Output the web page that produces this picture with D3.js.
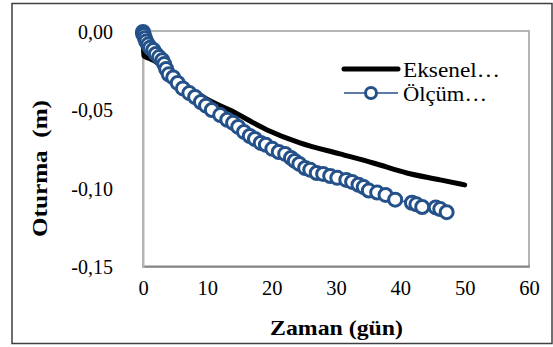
<!DOCTYPE html>
<html>
<head>
<meta charset="utf-8">
<script src="https://cdn.jsdelivr.net/npm/d3@7"></script>
<style>
  body { margin: 0; background: #fff; }
  text { font-family: "Liberation Serif", "Times New Roman", serif; }
</style>
</head>
<body>
<div id="chart"></div>
<script>
// Eksenel (model curve)
var eksenelT = [0, 0.1, 1, 2, 3, 5, 7, 10, 13.5, 19.3, 24.4, 30.6, 35.8, 41, 46.2, 50]
var eksenelS = [0, -0.015, -0.017, -0.019, -0.022, -0.029, -0.035, -0.043, -0.0498, -0.0625, -0.0708, -0.0778, -0.0836, -0.090, -0.0944, -0.0976]

// Ölçüm (measured)
var olcumT = [0, 0, 0.15, 0.3, 0.5, 0.8, 1.1, 1.6, 2.0, 2.5, 3.0, 3.3, 3.6, 4.0, 4.7, 5.4, 6.2, 7.2, 8.1, 9.0, 9.8, 10.7, 12.0, 13.1, 14.0, 14.8, 15.7, 16.6, 17.4, 18.3, 19.1, 20.1, 21.1, 22.1, 23.0, 23.6, 24.3, 25.2, 26.0, 27.0, 28.0, 29.1, 30.2, 31.6, 32.5, 33.5, 34.3, 35.1, 36.4, 37.7, 39.2, 41.8, 42.5, 43.4, 45.5, 46.2, 47.2]
var olcumS = [0, -0.001, -0.002, -0.004, -0.006, -0.008, -0.010, -0.0115, -0.014, -0.016, -0.018, -0.0205, -0.0236, -0.027, -0.029, -0.0325, -0.036, -0.039, -0.0415, -0.0447, -0.047, -0.0498, -0.053, -0.056, -0.058, -0.0606, -0.0638, -0.0664, -0.0683, -0.0708, -0.072, -0.0746, -0.0766, -0.0778, -0.0804, -0.0823, -0.0842, -0.0868, -0.088, -0.090, -0.0906, -0.0919, -0.0931, -0.0944, -0.0957, -0.0975, -0.099, -0.1012, -0.1025, -0.104, -0.107, -0.109, -0.110, -0.1117, -0.112, -0.113, -0.115]

var xTicks = [0, 10, 20, 30, 40, 50, 60]
var yTicks = [0, -0.05, -0.10, -0.15]
var seriesNames = ['Eksenel…', 'Ölçüm…']

var W = 553, H = 347
var plotL = 143, plotR = 529, plotT = 32, plotB = 267
var blue = '#245189'

var svg = d3.select('#chart').append('svg')
  .attr('width', W).attr('height', H)

// outer chart border
svg.append('rect')
  .attr('x', 12).attr('y', 3.5)
  .attr('width', 540).attr('height', 340)
  .attr('fill', 'none').attr('stroke', '#404040').attr('stroke-width', 1.5)

var x = d3.scaleLinear().domain([0, 60]).range([plotL, plotR])
var y = d3.scaleLinear().domain([-0.15, 0]).range([plotB, plotT])

// plot area frame
svg.append('rect')
  .attr('x', plotL).attr('y', plotT - 1)
  .attr('width', plotR - plotL).attr('height', plotB - plotT + 1)
  .attr('fill', 'none').attr('stroke', '#b4b4b4').attr('stroke-width', 2)

var fmt = function(d){ return d3.format('.2f')(d).replace('.', ',').replace('−', '-') }

var xAxis = svg.append('g')
  .attr('transform', 'translate(0,' + (plotB - 1) + ')')
  .call(d3.axisBottom(x).tickValues(xTicks).tickSize(0).tickPadding(14).tickFormat(d3.format('d')))
xAxis.select('.domain').attr('stroke', '#868686').attr('stroke-width', 2)
xAxis.selectAll('text').attr('font-size', 20.5).attr('fill', '#000')

var yAxis = svg.append('g')
  .attr('transform', 'translate(' + plotL + ',0)')
  .call(d3.axisLeft(y).tickValues(yTicks).tickSize(0).tickPadding(30).tickFormat(fmt))
yAxis.select('.domain').attr('stroke', '#b4b4b4').attr('stroke-width', 2)
yAxis.selectAll('text').attr('font-size', 20).attr('fill', '#000')

// axis titles
svg.append('text')
  .attr('x', 270).attr('y', 335)
  .attr('font-size', 21).attr('font-weight', 'bold')
  .attr('textLength', 133).attr('lengthAdjust', 'spacingAndGlyphs')
  .text('Zaman (gün)')

svg.append('text')
  .attr('transform', 'translate(47,237) rotate(-90)')
  .attr('font-size', 21).attr('font-weight', 'bold')
  .attr('xml:space', 'preserve')
  .attr('textLength', 137).attr('lengthAdjust', 'spacingAndGlyphs')
  .text('Oturma  (m)')

// series
var eksenel = eksenelT.map(function(t, i){ return {t: t, s: eksenelS[i]} })
var olcum = olcumT.map(function(t, i){ return {t: t, s: olcumS[i]} })

var line = d3.line()
  .x(function(d){ return x(d.t) })
  .y(function(d){ return y(d.s) })
  .curve(d3.curveMonotoneX)

svg.append('path').datum(eksenel)
  .attr('d', line)
  .attr('fill', 'none').attr('stroke', '#000')
  .attr('stroke-width', 5).attr('stroke-linecap', 'round')

svg.append('path').datum(olcum)
  .attr('d', line)
  .attr('fill', 'none').attr('stroke', blue).attr('stroke-width', 1.5)

svg.selectAll('circle.m').data(olcum).enter()
  .append('circle').attr('class', 'm')
  .attr('cx', function(d){ return x(d.t) })
  .attr('cy', function(d){ return y(d.s) })
  .attr('r', 6.5)
  .attr('fill', '#fff').attr('stroke', blue).attr('stroke-width', 3)

// legend
var lg = svg.append('g')
lg.append('line')
  .attr('x1', 344).attr('x2', 398).attr('y1', 69).attr('y2', 69)
  .attr('stroke', '#000').attr('stroke-width', 5).attr('stroke-linecap', 'round')
lg.append('text').attr('x', 403).attr('y', 77).attr('font-size', 22)
  .attr('textLength', 97).attr('lengthAdjust', 'spacingAndGlyphs')
  .text(seriesNames[0])

lg.append('line')
  .attr('x1', 344).attr('x2', 398).attr('y1', 93).attr('y2', 93)
  .attr('stroke', blue).attr('stroke-width', 1.5)
lg.append('circle').attr('cx', 371).attr('cy', 93).attr('r', 5.5)
  .attr('fill', '#fff').attr('stroke', blue).attr('stroke-width', 3)
lg.append('text').attr('x', 403).attr('y', 101).attr('font-size', 22)
  .attr('textLength', 84).attr('lengthAdjust', 'spacingAndGlyphs')
  .text(seriesNames[1])
</script>
</body>
</html>
